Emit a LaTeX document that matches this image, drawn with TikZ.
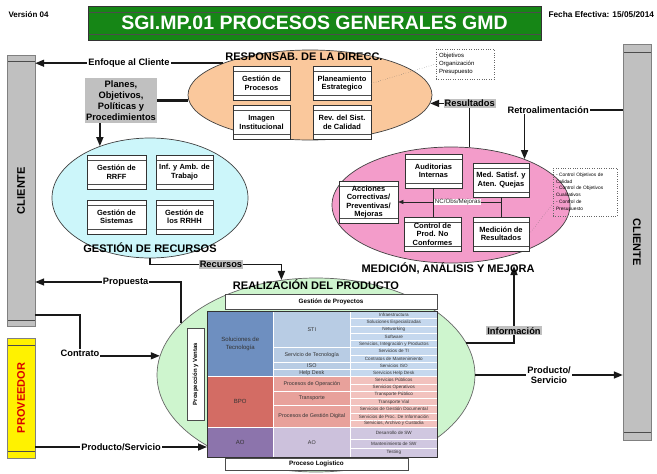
\documentclass[tikz,border=0pt]{standalone}
\usepackage{fontspec}
\setmainfont{Liberation Sans}
\usetikzlibrary{arrows.meta, shapes.geometric, positioning, calc}

\definecolor{hdrgreen}{RGB}{22,134,22}
\definecolor{dirorange}{RGB}{250,200,156}
\definecolor{reccyan}{RGB}{204,246,250}
\definecolor{mejpink}{RGB}{243,156,202}
\definecolor{reagreen}{RGB}{206,245,206}
\definecolor{barfill}{RGB}{192,192,192}
\definecolor{soluno}{RGB}{110,143,192}
\definecolor{soldos}{RGB}{184,204,228}
\definecolor{soltres}{RGB}{197,216,238}
\definecolor{bpouno}{RGB}{211,108,100}
\definecolor{bpodos}{RGB}{232,161,155}
\definecolor{bpotres}{RGB}{242,194,190}
\definecolor{aouno}{RGB}{140,116,172}
\definecolor{aodos}{RGB}{204,193,220}
\definecolor{aotres}{RGB}{208,199,224}

\tikzset{
	strips/.style={path picture={
		\draw[black!70] ([yshift=-#1]path picture bounding box.north west) -- ([yshift=-#1]path picture bounding box.north east)
			([yshift=#1]path picture bounding box.south west) -- ([yshift=#1]path picture bounding box.south east);}},
	strips/.default=5pt,
	proc/.style={draw=black!80, fill=white, line width=0.6pt, minimum width=57, minimum height=34,
		inner sep=1pt, align=center, font=\bfseries\fontsize{7.5}{8.5}\selectfont, strips},
	zone/.style={ellipse, draw=black!75, line width=0.7pt, inner sep=0pt},
	zonetitle/.style={font=\bfseries\fontsize{11}{12}\selectfont, inner sep=0pt},
	bar/.style={draw=black!50, fill=barfill, minimum width=28, inner sep=0pt,
		font=\bfseries\fontsize{11}{12}\selectfont},
	note/.style={draw=black!60, dotted, align=left, inner sep=3pt},
	conn/.style={draw=black!90, line width=1.5pt},
	arr/.style={-{Triangle[length=9pt,width=7pt]}},
	lab/.style={fill=white, inner sep=1pt, font=\bfseries\fontsize{9.3}{10.5}\selectfont},
	glab/.style={lab, fill=barfill},
	cell/.style={draw=white, line width=0.6pt, anchor=north west, inner sep=0pt, align=center,
		text=black!80, font=\fontsize{5.4}{6.2}\selectfont},
	row/.style={cell, minimum width=87, minimum height=7.25, font=\fontsize{4.6}{5}\selectfont}
}

\begin{document}
\begin{tikzpicture}[x=1pt, y=-1pt]
	\useasboundingbox (0,0) rectangle (657,474);

	% cabecera
	\node[anchor=west, font=\bfseries\fontsize{8}{9}\selectfont] (ver) at (5,15) {Versión 04};
	\node[draw=black!80, fill=hdrgreen, minimum width=453, minimum height=34, strips=6pt, text=white,
		font=\bfseries\fontsize{19.5}{20}\selectfont] (head) at (314.5,23) {SGI.MP.01 PROCESOS GENERALES GMD};
	\node[anchor=west, font=\bfseries\fontsize{8.3}{9}\selectfont] (fecha) at (545,15) {Fecha Efectiva: 15/05/2014};

	% cliente / proveedor
	\node[bar, minimum height=271, strips=6pt] (cli1) at (21,190.5) {\rotatebox{90}{CLIENTE}};
	\node[bar, minimum height=396, strips=8pt] (cli2) at (637,242) {\rotatebox{-90}{CLIENTE}};
	\node[bar, fill=yellow, minimum height=120, strips=7pt, text=red!85!black] (prov) at (21,398) {\rotatebox{90}{PROVEEDOR}};

	% responsabilidad de la direccion
	\node[zone, fill=dirorange, minimum width=244, minimum height=90] (dir) at (310,95) {};
	\node[zonetitle] (dirt) at (304,57) {RESPONSAB. DE LA DIRECC.};
	\node[proc] (gpro) at (261.5,83.5) {Gestión de\\Procesos};
	\node[proc, minimum width=58] (pla) at (342,83.5) {Planeamiento\\Estrategico};
	\node[proc] (ima) at (261.5,122.5) {Imagen\\Institucional};
	\node[proc, minimum width=58] (rev) at (342,122.5) {Rev. del Sist.\\de Calidad};
	\node[note, text width=52, minimum height=30, font=\fontsize{6}{7.7}\selectfont] (obj) at (465,64) {Objetivos\\Organización\\Presupuesto};
	\node[fill=barfill, minimum width=72, minimum height=45, inner sep=1pt, align=center,
		font=\bfseries\fontsize{9.3}{11}\selectfont] (plan) at (121,100.5) {Planes,\\Objetivos,\\Políticas y\\Procedimientos};

	% gestion de recursos
	\node[zone, fill=reccyan, minimum width=196, minimum height=120] (rec) at (150,198) {};
	\node[zonetitle] (rect) at (150,248) {GESTIÓN DE RECURSOS};
	\node[proc, minimum width=59] (rrff) at (116.5,172) {Gestión de\\RRFF};
	\node[proc] (inf) at (184.5,172) {Inf. y Amb. de\\Trabajo};
	\node[proc, minimum width=59] (sis) at (116.5,217) {Gestión de\\Sistemas};
	\node[proc] (rrhh) at (184.5,217) {Gestión de\\los RRHH};

	% medicion, analisis y mejora
	\node[zone, fill=mejpink, minimum width=238, minimum height=116] (mej) at (451,205) {};
	\node[proc] (aud) at (433.5,171) {Auditorias\\Internas};
	\node[proc, minimum width=56] (sat) at (501,180) {Med. Satisf. y\\Aten. Quejas};
	\node[proc, minimum width=59, minimum height=42] (acc) at (368.5,202) {Acciones\\Correctivas/\\Preventivas/\\Mejoras};
	\node[proc] (ctl) at (432.5,234) {Control de\\Prod. No\\Conformes};
	\node[proc, minimum width=56] (med) at (501,234) {Medición de\\Resultados};
	\node[note, text width=58, minimum height=48, font=\fontsize{4.8}{6.8}\selectfont] (ctrl) at (585,192)
		{- Control Objetivos de\\Calidad\\- Control de Objetivos\\Cualitativos\\- Control de\\Presupuesto};
	\draw[black!85, line width=0.6pt] (aud.south) -- (aud.south |- ctl.north);
	\draw[black!85, line width=0.6pt] (sat.south) -- (med.north);
	\draw[black!85, line width=0.6pt, -{Triangle[length=5pt,width=4pt]}] (sat.south |- acc.east) --
		node[pos=0.42, fill=white, inner sep=0.5pt, font=\fontsize{6.2}{7}\selectfont] {NC/Obs/Mejoras} (acc.east);
	\draw[black!60, dotted] (pla.east) -- (obj.west);
	\draw[black!60, dotted] (med.east) -- (ctrl.200);

	% realizacion del producto
	\node[zone, fill=reagreen, draw=black!60, minimum width=318, minimum height=194] (rea) at (316,375) {};
	\node[zonetitle] (reat) at (316,285) {REALIZACIÓN DEL PRODUCTO};
	\node[draw=black!70, fill=white, minimum width=212, minimum height=15, inner sep=0pt,
		font=\bfseries\fontsize{6.3}{7}\selectfont] (gp) at (331,301.5) {Gestión de Proyectos};
	\node[draw=black!70, fill=white, minimum width=17, minimum height=92, inner sep=0pt,
		font=\bfseries\fontsize{6}{7}\selectfont] (pv) at (195.5,374) {\rotatebox{90}{Prospección y Ventas}};
	\node[draw=black!70, fill=white, minimum width=183, minimum height=12, inner sep=0pt,
		font=\bfseries\fontsize{6.3}{7}\selectfont] (pl) at (316.5,464) {Proceso Logistico};

	\node[cell, fill=soluno, minimum width=66, minimum height=65.25, font=\fontsize{6}{7.5}\selectfont] (sol) at (207,311) {Soluciones de\\Tecnología};
	\node[cell, fill=bpouno, minimum width=66, minimum height=50.75, font=\fontsize{6}{7.5}\selectfont] (bpo) at (207,376.25) {BPO};
	\node[cell, fill=aouno, minimum width=66, minimum height=30, font=\fontsize{6}{7.5}\selectfont] (ao1) at (207,427) {AO};

	\node[cell, fill=soldos, minimum width=77, minimum height=36.25] (sti) at (273,311) {STI};
	\node[cell, fill=soldos, minimum width=77, minimum height=14.5] (stec) at (273,347.25) {Servicio de Tecnología};
	\node[cell, fill=soldos, minimum width=77, minimum height=7.25] (iso) at (273,361.75) {ISO};
	\node[cell, fill=soldos, minimum width=77, minimum height=7.25] (hd) at (273,369) {Help Desk};
	\node[cell, fill=bpodos, minimum width=77, minimum height=14.5] (pop) at (273,376.25) {Procesos de Operación};
	\node[cell, fill=bpodos, minimum width=77, minimum height=14.5] (tra) at (273,390.75) {Transporte};
	\node[cell, fill=bpodos, minimum width=77, minimum height=21.75] (pgd) at (273,405.25) {Procesos de Gestión Digital};
	\node[cell, fill=aodos, minimum width=77, minimum height=30] (ao2) at (273,427) {AO};

	\foreach \t [count=\i from 0] in {Infraestructura, Soluciones Especializadas, Networking, Software,
		{Servicios, Integración y Productos}, Servicios de TI, Contratos de Mantenimiento, Servicios ISO, Servicios Help Desk}
		\node[row, fill=soltres] (r\i) at (350,311+7.25*\i) {\t};
	\foreach \t [count=\i from 9] in {Servicios Públicos, Servicios Operativos, Transporte Público, Transporte Vial,
		Servicios de Gestión Documental, Servicios de Proc. De Información, {Servicios, Archivo y Custodia}}
		\node[row, fill=bpotres] (r\i) at (350,311+7.25*\i) {\t};
	\node[row, fill=aotres, minimum height=12] (r16) at (350,427) {Desarrollo de SW};
	\node[row, fill=aotres, minimum height=9] (r17) at (350,439) {Mantenimiento de SW};
	\node[row, fill=aotres, minimum height=9] (r18) at (350,448) {Testing};
	\draw[black!80, line width=0.8pt] (sol.north west) rectangle (r18.south east);

	% flujos
	\coordinate (fb) at (600,110);
	\coordinate (propy) at (0,282);
	\coordinate (ctk) at (80,315);
	\coordinate (psy) at (0,447);
	\coordinate (infk) at (514,266);

	\draw[conn, arr] (dir.160) -- node[lab] {Enfoque al Cliente} (cli1.east |- dir.160);
	\draw[conn, line width=2.6pt] (plan.east) -- (plan.east -| dir.west);
	\draw[conn, arr] (plan.south -| rec.134) -- (rec.134);
	\draw[conn, arr] (mej.72) |- node[glab] {Resultados} (dir.-4);
	\draw[conn, arr] (cli2.west |- fb) -| node[lab, pos=0.38] {Retroalimentación} (mej.32);
	\draw[conn, arr] (rec.south) -- ++(0,6) -| node[glab, pos=0.27] {Recursos} (rea.110);
	\draw[conn, arr] (rea.159) |- node[lab, pos=0.69] {Propuesta} (cli1.east |- propy);
	\draw[conn, arr] (cli1.east |- ctk) -- (ctk) |- node[lab, pos=0.5, yshift=3pt] {Contrato} (rea.173);
	\draw[conn, arr] (prov.east |- psy) -- node[lab] {Producto/Servicio} (ao1.west |- psy);
	\draw[conn, arr] (rea.12) -| node[glab, pos=0.58] {Información} (infk);
	\draw[conn, arr] (rea.east) -- node[lab, align=center] {Producto/\\Servicio} (cli2.west |- rea.east);

	\node[zonetitle] (mejt) at (448,268) {MEDICIÓN, ANÁLISIS Y MEJORA};
\end{tikzpicture}
\end{document}
